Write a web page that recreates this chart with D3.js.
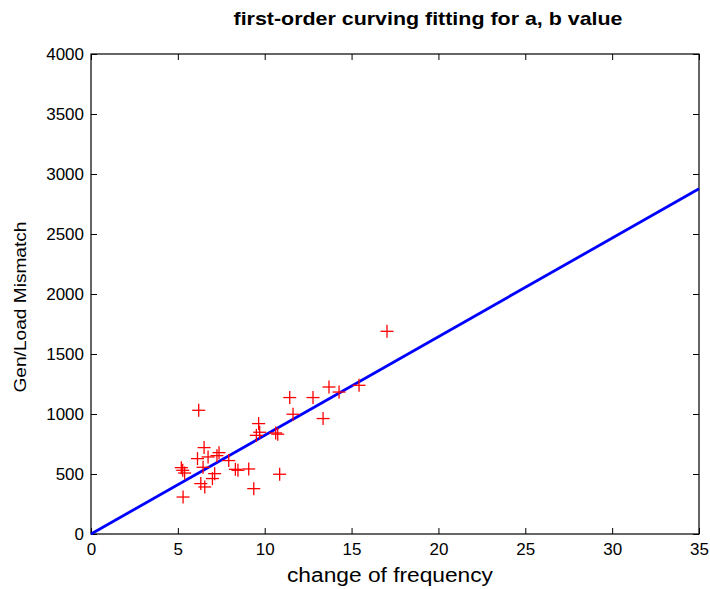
<!DOCTYPE html>
<html>
<head>
<meta charset="utf-8">
<script src="https://cdn.jsdelivr.net/npm/d3@7"></script>
<style>
  body { margin: 0; background: #fff; }
  svg text { font-family: "Liberation Sans", Arial, sans-serif; }
  .axis path, .axis line { stroke: #000; }
  .axis text { font-size: 17px; fill: #000; }
</style>
</head>
<body>
<svg id="chart" width="710" height="589"></svg>
<script>
// measured points (change of frequency, Gen/Load mismatch)
var freqChange = [17.04, 13.70, 14.28, 15.43, 11.44, 12.78, 11.63, 13.36, 6.20, 9.65,
                  9.52, 9.71, 10.63, 10.75, 6.51, 7.37, 7.25, 6.13, 6.74, 7.93,
                  5.20, 5.39, 5.28, 6.45, 7.12, 6.99, 8.31, 8.46, 9.08, 10.86,
                  6.32, 6.55, 9.37, 5.30];
var mismatch =   [1689, 1225, 1183, 1239, 1137, 1137, 998, 962, 1031, 920,
                  822, 848, 842, 832, 720, 678, 653, 628, 642, 612,
                  553, 508, 531, 556, 503, 462, 539, 531, 542, 498,
                  420, 392, 378, 308];

// first-order fit, end points
var fitX = [0, 35];
var fitY = [0, 2877];

var xTicks = [0, 5, 10, 15, 20, 25, 30, 35];
var yTicks = [0, 500, 1000, 1500, 2000, 2500, 3000, 3500, 4000];

var pLeft = 91, pRight = 699, pTop = 54, pBottom = 534;
var svg = d3.select('#chart');

var x = d3.scaleLinear().domain([0, 35]).range([pLeft, pRight]);
var y = d3.scaleLinear().domain([0, 4000]).range([pBottom, pTop]);

svg.append('rect')
  .attr('x', 0).attr('y', 0).attr('width', 710).attr('height', 589)
  .attr('fill', '#fff');

// axes, ticks pointing inwards like matlab
svg.append('g').attr('class', 'axis')
  .attr('transform', 'translate(0,' + pBottom + ')')
  .call(d3.axisBottom(x).tickValues(xTicks).tickSizeInner(-6).tickSizeOuter(0).tickPadding(9));
svg.append('g').attr('class', 'axis')
  .attr('transform', 'translate(0,' + pTop + ')')
  .call(d3.axisTop(x).tickValues(xTicks).tickSizeInner(-6).tickSizeOuter(0).tickFormat(''));
svg.append('g').attr('class', 'axis')
  .attr('transform', 'translate(' + pLeft + ',0)')
  .call(d3.axisLeft(y).tickValues(yTicks).tickFormat(d3.format('d')).tickSizeInner(-6).tickSizeOuter(0).tickPadding(7));
svg.append('g').attr('class', 'axis')
  .attr('transform', 'translate(' + pRight + ',0)')
  .call(d3.axisRight(y).tickValues(yTicks).tickSizeInner(-6).tickSizeOuter(0).tickFormat(''));

svg.selectAll('.axis .domain').remove();
svg.append('rect')
  .attr('x', pLeft).attr('y', pTop)
  .attr('width', pRight - pLeft).attr('height', pBottom - pTop)
  .attr('fill', 'none').attr('stroke', '#000').attr('stroke-width', 1.2);

// fitted line
var line = d3.line()
  .x(function(d, i){ return x(fitX[i]); })
  .y(function(d){ return y(d); });
svg.append('path')
  .datum(fitY)
  .attr('d', line)
  .attr('fill', 'none')
  .attr('stroke', '#0000ff')
  .attr('stroke-width', 2.8);

// red plus markers
var arm = 6.5;
var marks = svg.append('g').selectAll('g')
  .data(freqChange)
  .enter().append('g')
  .attr('transform', function(d, i){ return 'translate(' + x(d) + ',' + y(mismatch[i]) + ')'; });
marks.append('line').attr('x1', -arm).attr('x2', arm).attr('y1', 0).attr('y2', 0);
marks.append('line').attr('x1', 0).attr('x2', 0).attr('y1', -arm).attr('y2', arm);
marks.selectAll('line').attr('stroke', '#ff0000').attr('stroke-width', 1.3);

// titles
svg.append('text')
  .attr('x', 428).attr('y', 25)
  .attr('text-anchor', 'middle')
  .attr('textLength', 389).attr('lengthAdjust', 'spacingAndGlyphs')
  .style('font-size', '19px').style('font-weight', 'bold')
  .text('first-order curving fitting for a, b value');
svg.append('text')
  .attr('x', 390).attr('y', 582)
  .attr('text-anchor', 'middle')
  .attr('textLength', 206).attr('lengthAdjust', 'spacingAndGlyphs')
  .style('font-size', '20px')
  .text('change of frequency');
svg.append('text')
  .attr('transform', 'translate(26,307) rotate(-90)')
  .attr('text-anchor', 'middle')
  .attr('textLength', 171).attr('lengthAdjust', 'spacingAndGlyphs')
  .style('font-size', '16px')
  .text('Gen/Load Mismatch');
</script>
</body>
</html>
